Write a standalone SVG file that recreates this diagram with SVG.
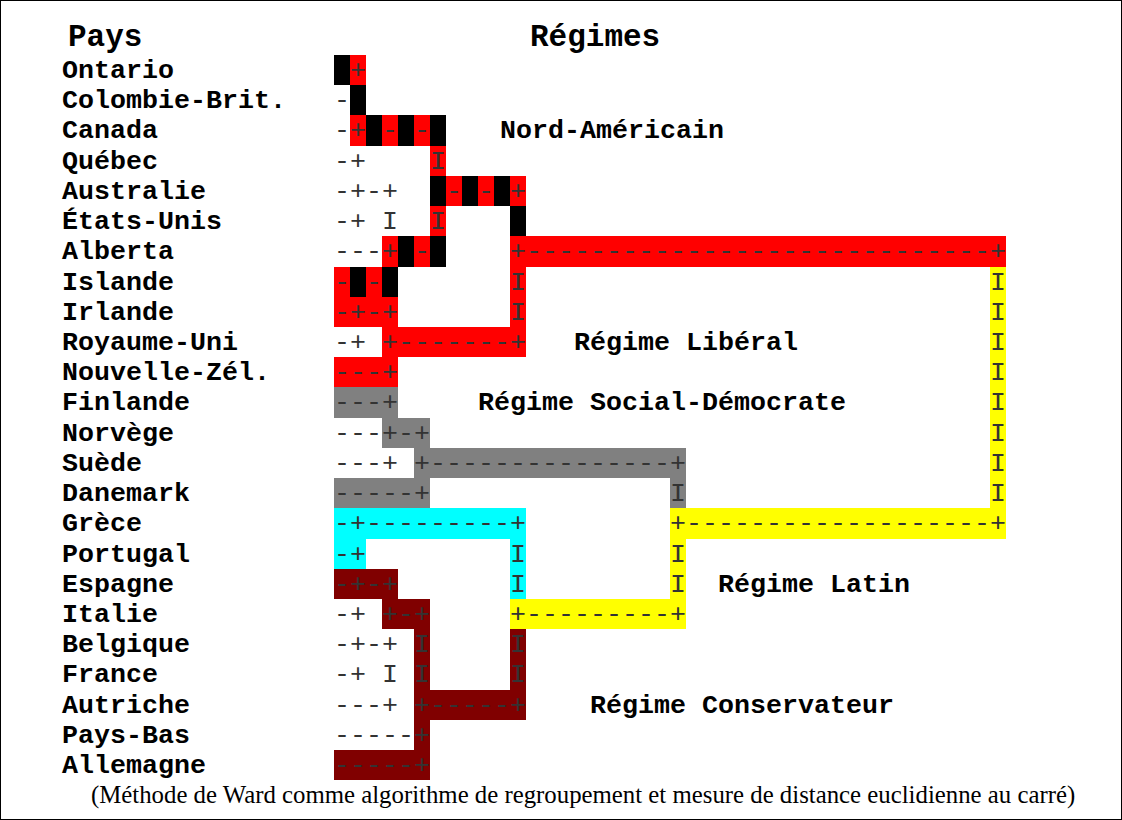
<svg xmlns="http://www.w3.org/2000/svg" width="1122" height="820" viewBox="0 0 1122 820">
  <style>
    .hd { font-family: "Liberation Mono", "Courier New", monospace; font-weight: bold; font-size: 31px; fill: #000; }
    .lbl { font-family: "Liberation Mono", "Courier New", monospace; font-weight: bold; font-size: 26.667px; fill: #000; }
    .grp { font-family: "Liberation Mono", "Courier New", monospace; font-weight: bold; font-size: 26.667px; fill: #000; }
    .tr { font-family: "Liberation Mono", "Courier New", monospace; font-size: 26.667px; fill: #333; white-space: pre; }
    .note { font-family: "Liberation Serif", "Times New Roman", serif; font-size: 24.8px; fill: #000; }
    .k { fill: #000000; }
    .r { fill: #ff0000; }
    .g { fill: #808080; }
    .c { fill: #00ffff; }
    .y { fill: #ffff00; }
    .m { fill: #800000; }
  </style>

  <rect x="0.5" y="0.5" width="1121" height="819" fill="#fff" stroke="#000" stroke-width="1"/>

  <g id="headers">
    <text class="hd" x="68" y="46">Pays</text>
    <text class="hd" x="530" y="46">Régimes</text>
  </g>

  <!-- country labels: rows about 30.2px apart -->
  <g id="countries">
    <g id="ontario"><text class="lbl" x="62" y="78">Ontario</text></g>
    <g id="colombie-brit"><text class="lbl" x="62" y="108">Colombie-Brit.</text></g>
    <g id="canada"><text class="lbl" x="62" y="138">Canada</text></g>
    <g id="quebec"><text class="lbl" x="62" y="169">Québec</text></g>
    <g id="australie"><text class="lbl" x="62" y="199">Australie</text></g>
    <g id="etats-unis"><text class="lbl" x="62" y="229">États-Unis</text></g>
    <g id="alberta"><text class="lbl" x="62" y="259">Alberta</text></g>
    <g id="islande"><text class="lbl" x="62" y="290">Islande</text></g>
    <g id="irlande"><text class="lbl" x="62" y="320">Irlande</text></g>
    <g id="royaume-uni"><text class="lbl" x="62" y="350">Royaume-Uni</text></g>
    <g id="nouvelle-zel"><text class="lbl" x="62" y="380">Nouvelle-Zél.</text></g>
    <g id="finlande"><text class="lbl" x="62" y="410">Finlande</text></g>
    <g id="norvege"><text class="lbl" x="62" y="441">Norvège</text></g>
    <g id="suede"><text class="lbl" x="62" y="471">Suède</text></g>
    <g id="danemark"><text class="lbl" x="62" y="501">Danemark</text></g>
    <g id="grece"><text class="lbl" x="62" y="531">Grèce</text></g>
    <g id="portugal"><text class="lbl" x="62" y="562">Portugal</text></g>
    <g id="espagne"><text class="lbl" x="62" y="592">Espagne</text></g>
    <g id="italie"><text class="lbl" x="62" y="622">Italie</text></g>
    <g id="belgique"><text class="lbl" x="62" y="652">Belgique</text></g>
    <g id="france"><text class="lbl" x="62" y="682">France</text></g>
    <g id="autriche"><text class="lbl" x="62" y="713">Autriche</text></g>
    <g id="pays-bas"><text class="lbl" x="62" y="743">Pays-Bas</text></g>
    <g id="allemagne"><text class="lbl" x="62" y="773">Allemagne</text></g>
  </g>

  <!-- dendrogram: 16px cells starting at x=334 -->
  <g id="connectors">
    <g id="cells">
      <!-- row 0 -->
      <rect class="k" x="334" y="55" width="16" height="30"/>
      <rect class="r" x="350" y="55" width="16" height="30"/>
      <!-- row 1 -->
      <rect class="k" x="350" y="85" width="16" height="30"/>
      <!-- row 2 -->
      <rect class="r" x="350" y="115" width="16" height="31"/>
      <rect class="k" x="366" y="115" width="16" height="31"/>
      <rect class="r" x="382" y="115" width="16" height="31"/>
      <rect class="k" x="398" y="115" width="16" height="31"/>
      <rect class="r" x="414" y="115" width="16" height="31"/>
      <rect class="k" x="430" y="115" width="16" height="31"/>
      <!-- row 3 -->
      <rect class="r" x="430" y="146" width="16" height="30"/>
      <!-- row 4 -->
      <rect class="k" x="430" y="176" width="16" height="30"/>
      <rect class="r" x="446" y="176" width="16" height="30"/>
      <rect class="k" x="462" y="176" width="16" height="30"/>
      <rect class="r" x="478" y="176" width="16" height="30"/>
      <rect class="k" x="494" y="176" width="16" height="30"/>
      <rect class="r" x="510" y="176" width="16" height="30"/>
      <!-- row 5 -->
      <rect class="r" x="430" y="206" width="16" height="30"/>
      <rect class="k" x="510" y="206" width="16" height="30"/>
      <!-- row 6 -->
      <rect class="r" x="382" y="236" width="16" height="31"/>
      <rect class="k" x="398" y="236" width="16" height="31"/>
      <rect class="r" x="414" y="236" width="16" height="31"/>
      <rect class="k" x="430" y="236" width="16" height="31"/>
      <rect class="r" x="510" y="236" width="496" height="31"/>
      <!-- row 7 -->
      <rect class="r" x="334" y="267" width="16" height="30"/>
      <rect class="k" x="350" y="267" width="16" height="30"/>
      <rect class="r" x="366" y="267" width="16" height="30"/>
      <rect class="k" x="382" y="267" width="16" height="30"/>
      <rect class="r" x="510" y="267" width="16" height="30"/>
      <!-- row 8 -->
      <rect class="r" x="334" y="297" width="64" height="30"/>
      <rect class="r" x="510" y="297" width="16" height="30"/>
      <!-- row 9 -->
      <rect class="r" x="382" y="327" width="144" height="30"/>
      <!-- row 10 -->
      <rect class="r" x="334" y="357" width="64" height="30"/>
      <!-- row 11 -->
      <rect class="g" x="334" y="387" width="64" height="31"/>
      <!-- row 12 -->
      <rect class="g" x="382" y="418" width="48" height="30"/>
      <!-- row 13 -->
      <rect class="g" x="414" y="448" width="272" height="30"/>
      <!-- row 14 -->
      <rect class="g" x="334" y="478" width="96" height="30"/>
      <rect class="g" x="670" y="478" width="16" height="30"/>
      <!-- right-hand yellow column, rows 7-14 -->
      <rect class="y" x="990" y="267" width="16" height="241"/>
      <!-- row 15 -->
      <rect class="c" x="334" y="508" width="192" height="31"/>
      <rect class="y" x="670" y="508" width="336" height="31"/>
      <!-- rows 16-17 -->
      <rect class="c" x="334" y="539" width="32" height="30"/>
      <rect class="c" x="510" y="539" width="16" height="60"/>
      <rect class="y" x="670" y="539" width="16" height="60"/>
      <rect class="m" x="334" y="569" width="64" height="30"/>
      <!-- row 18 -->
      <rect class="m" x="382" y="599" width="48" height="30"/>
      <rect class="y" x="510" y="599" width="176" height="30"/>
      <!-- rows 19-20 -->
      <rect class="m" x="414" y="629" width="16" height="61"/>
      <rect class="m" x="510" y="629" width="16" height="61"/>
      <!-- row 21 -->
      <rect class="m" x="414" y="690" width="112" height="30"/>
      <!-- row 22 -->
      <rect class="m" x="414" y="720" width="16" height="30"/>
      <!-- row 23 -->
      <rect class="m" x="334" y="750" width="96" height="30"/>
    </g>

    <g id="tree-marks" xml:space="preserve">
      <text class="tr" x="350" y="78">+</text>
      <text class="tr" x="334" y="108">-</text>
      <text class="tr" x="334" y="138">-+ - -</text>
      <text class="tr" x="334" y="169">-+</text>
      <text class="tr" x="430" y="169">I</text>
      <text class="tr" x="334" y="199">-+-+</text>
      <text class="tr" x="446" y="199">- - +</text>
      <text class="tr" x="334" y="229">-+ I</text>
      <text class="tr" x="430" y="229">I</text>
      <text class="tr" x="334" y="259">---+ -</text>
      <text class="tr" x="510" y="259">+-----------------------------+</text>
      <text class="tr" x="334" y="290">- -</text>
      <text class="tr" x="510" y="290">I</text>
      <text class="tr" x="334" y="320">-+-+</text>
      <text class="tr" x="510" y="320">I</text>
      <text class="tr" x="334" y="350">-+ +-------+</text>
      <text class="tr" x="334" y="380">---+</text>
      <text class="tr" x="334" y="410">---+</text>
      <text class="tr" x="334" y="441">---+-+</text>
      <text class="tr" x="334" y="471">---+ +---------------+</text>
      <text class="tr" x="334" y="501">-----+</text>
      <text class="tr" x="670" y="501">I</text>
      <text class="tr" x="990" y="290">I</text>
      <text class="tr" x="990" y="320">I</text>
      <text class="tr" x="990" y="350">I</text>
      <text class="tr" x="990" y="380">I</text>
      <text class="tr" x="990" y="410">I</text>
      <text class="tr" x="990" y="441">I</text>
      <text class="tr" x="990" y="471">I</text>
      <text class="tr" x="990" y="501">I</text>
      <text class="tr" x="334" y="531">-+---------+</text>
      <text class="tr" x="670" y="531">+-------------------+</text>
      <text class="tr" x="334" y="562">-+</text>
      <text class="tr" x="510" y="562">I</text>
      <text class="tr" x="670" y="562">I</text>
      <text class="tr" x="334" y="592">-+-+</text>
      <text class="tr" x="510" y="592">I</text>
      <text class="tr" x="670" y="592">I</text>
      <text class="tr" x="334" y="622">-+ +-+</text>
      <text class="tr" x="510" y="622">+---------+</text>
      <text class="tr" x="334" y="652">-+-+ I</text>
      <text class="tr" x="510" y="652">I</text>
      <text class="tr" x="334" y="682">-+ I I</text>
      <text class="tr" x="510" y="682">I</text>
      <text class="tr" x="334" y="713">---+ +-----+</text>
      <text class="tr" x="334" y="743">-----+</text>
      <text class="tr" x="334" y="773">-----+</text>
    </g>
  </g>

  <g id="regimes">
    <g id="nord-americain"><text class="grp" x="500" y="138">Nord-Américain</text></g>
    <g id="liberal"><text class="grp" x="574" y="350">Régime Libéral</text></g>
    <g id="social-democrate"><text class="grp" x="478" y="410">Régime Social-Démocrate</text></g>
    <g id="latin"><text class="grp" x="718" y="592">Régime Latin</text></g>
    <g id="conservateur"><text class="grp" x="590" y="713">Régime Conservateur</text></g>
  </g>

  <text class="note" x="91" y="803">(Méthode de Ward comme algorithme de regroupement et mesure de distance euclidienne au carré)</text>
</svg>
